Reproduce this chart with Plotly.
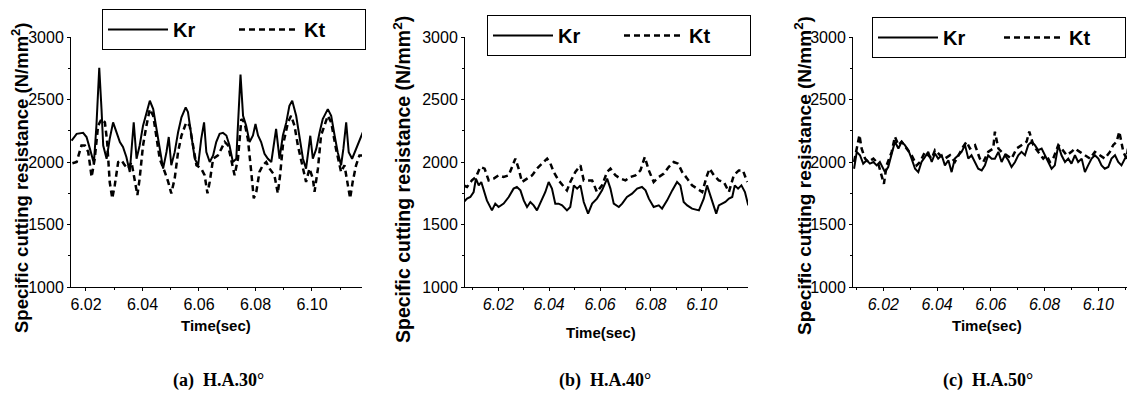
import plotly.graph_objects as go

# ---------------- data ----------------
# (a) H.A.30
t_a_kr = [6.0149, 6.0167, 6.0190, 6.0202, 6.0214, 6.0228, 6.0237, 6.0247, 6.0255, 6.0261,
          6.0273, 6.0284, 6.0296, 6.0308, 6.0320, 6.0331, 6.0343, 6.0355, 6.0369, 6.0379,
          6.0390, 6.0402, 6.0414, 6.0426, 6.0438, 6.0449, 6.0461, 6.0473, 6.0485, 6.0493,
          6.0502, 6.0514, 6.0526, 6.0538, 6.0553, 6.0561, 6.0573, 6.0585, 6.0597, 6.0608,
          6.0618, 6.0626, 6.0638, 6.0650, 6.0661, 6.0673, 6.0685, 6.0697, 6.0708, 6.0720,
          6.0732, 6.0738, 6.0747, 6.0756, 6.0767, 6.0779, 6.0791, 6.0800, 6.0809, 6.0820,
          6.0832, 6.0844, 6.0856, 6.0873, 6.0885, 6.0897, 6.0909, 6.0920, 6.0930, 6.0944,
          6.0956, 6.0968, 6.0979, 6.0994, 6.1003, 6.1015, 6.1027, 6.1038, 6.1056, 6.1068,
          6.1080, 6.1091, 6.1103, 6.1111, 6.1121, 6.1130, 6.1142, 6.1156, 6.1168, 6.1180]
kr_a = [2170, 2225, 2233, 2200, 2105, 1990, 2291, 2754, 2423, 2132,
        2026, 2185, 2317, 2238, 2160, 2120, 2040, 1920, 2317, 2026,
        2132, 2291, 2397, 2490, 2423, 2265, 2105, 1947, 2080, 2200,
        1974, 2079, 2238, 2357, 2437, 2400, 2212, 2026, 1974, 2185,
        2317, 2080, 2000, 2053, 2160, 2225, 2233, 2212, 2132, 2000,
        2026, 2344, 2700, 2370, 2291, 2160, 2212, 2304, 2212, 2160,
        2066, 2026, 2000, 2265, 2026, 2212, 2317, 2450, 2490, 2370,
        2185, 2026, 1947, 2210, 2026, 2105, 2238, 2344, 2423, 2370,
        2212, 2079, 1974, 2105, 2317, 2079, 2026, 2105, 2185, 2238]
t_a_kt = [6.0152, 6.0167, 6.0184, 6.0196, 6.0208, 6.0220, 6.0231, 6.0243, 6.0255, 6.0267,
          6.0275, 6.0284, 6.0293, 6.0302, 6.0314, 6.0326, 6.0337, 6.0349, 6.0361, 6.0373,
          6.0382, 6.0390, 6.0402, 6.0414, 6.0426, 6.0438, 6.0449, 6.0461, 6.0479, 6.0491,
          6.0502, 6.0514, 6.0526, 6.0538, 6.0555, 6.0567, 6.0579, 6.0591, 6.0608, 6.0620,
          6.0630, 6.0638, 6.0650, 6.0667, 6.0679, 6.0691, 6.0703, 6.0714, 6.0726, 6.0738,
          6.0750, 6.0761, 6.0773, 6.0785, 6.0794, 6.0803, 6.0814, 6.0826, 6.0838, 6.0850,
          6.0867, 6.0879, 6.0887, 6.0897, 6.0915, 6.0926, 6.0938, 6.0950, 6.0968, 6.0979,
          6.0991, 6.1003, 6.1009, 6.1021, 6.1032, 6.1044, 6.1056, 6.1068, 6.1085, 6.1103,
          6.1115, 6.1127, 6.1135, 6.1144, 6.1156, 6.1168, 6.1180]
kt_a = [1990, 2000, 2132, 2132, 2080, 1880, 2026, 2291, 2344, 2317,
        2160, 1840, 1709, 1815, 2000, 2013, 1974, 1947, 2000, 1841,
        1735, 1868, 2132, 2291, 2423, 2370, 2185, 2026, 1920, 1841,
        1749, 1868, 2080, 2212, 2317, 2291, 2132, 1974, 1947, 1894,
        1749, 1841, 2026, 2053, 2105, 2160, 2132, 2026, 1894, 2026,
        2344, 2317, 2185, 1920, 1709, 1762, 1920, 1974, 2000, 1947,
        1894, 1749, 1894, 2132, 2317, 2370, 2291, 2132, 1947, 1841,
        1947, 1868, 1762, 1947, 2212, 2291, 2370, 2317, 2105, 1920,
        1974, 1815, 1709, 1841, 1974, 2053, 2053]

# (b) H.A.40
t_b_kr = [6.0064, 6.0077, 6.0090, 6.0103, 6.0112, 6.0123, 6.0133, 6.0142, 6.0155, 6.0175,
          6.0188, 6.0201, 6.0221, 6.0241, 6.0260, 6.0273, 6.0287, 6.0300, 6.0313, 6.0326,
          6.0339, 6.0352, 6.0365, 6.0385, 6.0398, 6.0411, 6.0424, 6.0437, 6.0451, 6.0470,
          6.0483, 6.0497, 6.0510, 6.0523, 6.0536, 6.0553, 6.0569, 6.0588, 6.0608, 6.0628,
          6.0641, 6.0654, 6.0674, 6.0687, 6.0706, 6.0726, 6.0746, 6.0765, 6.0779, 6.0792,
          6.0811, 6.0831, 6.0844, 6.0864, 6.0884, 6.0903, 6.0916, 6.0929, 6.0943, 6.0962,
          6.0989, 6.1008, 6.1021, 6.1034, 6.1057, 6.1067, 6.1093, 6.1107, 6.1120, 6.1130,
          6.1143, 6.1156, 6.1170, 6.1183]
kr_b = [1680, 1707, 1720, 1760, 1867, 1813, 1840, 1787, 1693, 1613,
        1667, 1640, 1667, 1720, 1787, 1800, 1773, 1693, 1640, 1680,
        1653, 1613, 1667, 1760, 1840, 1787, 1667, 1667, 1653, 1613,
        1640, 1813, 1787, 1813, 1680, 1587, 1667, 1707, 1773, 1867,
        1787, 1667, 1640, 1667, 1720, 1747, 1787, 1800, 1773, 1707,
        1640, 1653, 1627, 1693, 1773, 1840, 1813, 1680, 1653, 1627,
        1613, 1707, 1813, 1733, 1587, 1653, 1680, 1707, 1720, 1813,
        1787, 1813, 1760, 1653]
t_b_kt = [6.0064, 6.0077, 6.0096, 6.0112, 6.0129, 6.0146, 6.0162, 6.0182, 6.0201, 6.0221,
          6.0241, 6.0256, 6.0267, 6.0280, 6.0293, 6.0313, 6.0333, 6.0352, 6.0372, 6.0392,
          6.0405, 6.0418, 6.0437, 6.0457, 6.0470, 6.0483, 6.0503, 6.0523, 6.0536, 6.0569,
          6.0588, 6.0608, 6.0628, 6.0641, 6.0661, 6.0680, 6.0700, 6.0720, 6.0739, 6.0759,
          6.0776, 6.0792, 6.0811, 6.0831, 6.0851, 6.0870, 6.0890, 6.0907, 6.0923, 6.0943,
          6.0962, 6.0982, 6.1002, 6.1021, 6.1031, 6.1048, 6.1067, 6.1087, 6.1107, 6.1126,
          6.1146, 6.1162, 6.1179]
kt_b = [1813, 1800, 1853, 1880, 1960, 1947, 1853, 1867, 1893, 1880,
        1893, 1973, 2027, 1947, 1840, 1867, 1893, 1947, 1987, 2027,
        1987, 1920, 1853, 1800, 1773, 1840, 1920, 1973, 1853, 1853,
        1760, 1813, 1920, 1947, 1893, 1867, 1853, 1880, 1893, 1933,
        2040, 1933, 1840, 1880, 1907, 1960, 2000, 1987, 1920, 1867,
        1813, 1787, 1760, 1893, 1947, 1893, 1853, 1840, 1760, 1893,
        1933, 1933, 1840]

# (c) H.A.50
t_c_kr = [6.0091, 6.0101, 6.0113, 6.0125, 6.0138, 6.0150, 6.0163, 6.0175, 6.0187, 6.0206,
          6.0218, 6.0231, 6.0243, 6.0256, 6.0268, 6.0280, 6.0293, 6.0305, 6.0318, 6.0330,
          6.0342, 6.0355, 6.0367, 6.0380, 6.0392, 6.0404, 6.0417, 6.0429, 6.0442, 6.0454,
          6.0466, 6.0479, 6.0491, 6.0504, 6.0516, 6.0528, 6.0541, 6.0553, 6.0566, 6.0578,
          6.0590, 6.0603, 6.0615, 6.0628, 6.0640, 6.0652, 6.0665, 6.0677, 6.0690, 6.0702,
          6.0714, 6.0727, 6.0739, 6.0752, 6.0764, 6.0776, 6.0789, 6.0801, 6.0814, 6.0826,
          6.0838, 6.0851, 6.0863, 6.0876, 6.0888, 6.0900, 6.0913, 6.0925, 6.0938, 6.0950,
          6.0962, 6.0975, 6.0987, 6.1000, 6.1012, 6.1024, 6.1037, 6.1049, 6.1062, 6.1074,
          6.1086, 6.1099, 6.1111, 6.1124, 6.1132]
kr_c = [1946, 2081, 2054, 1987, 2014, 1987, 2000, 1973, 2000, 1919,
        1960, 2054, 2162, 2108, 2162, 2135, 2095, 2027, 1946, 1919,
        2000, 2041, 2081, 2000, 2068, 2027, 2054, 1973, 2014, 1919,
        2027, 2054, 2081, 2135, 2027, 2054, 2000, 1946, 1933, 1973,
        2054, 2027, 2027, 2081, 2000, 2054, 2014, 1960, 2000, 2054,
        2081, 2054, 2135, 2162, 2135, 2095, 2108, 2054, 2000, 1946,
        1973, 2135, 2054, 2000, 2027, 1987, 2054, 2000, 2027, 1919,
        1973, 2027, 2054, 2027, 1973, 1946, 1960, 2027, 2054, 2000,
        1973, 2027, 2054, 1973, 2054]
t_c_kt = [6.0091, 6.0101, 6.0111, 6.0119, 6.0132, 6.0144, 6.0163, 6.0181, 6.0194, 6.0202,
          6.0212, 6.0231, 6.0243, 6.0256, 6.0268, 6.0287, 6.0305, 6.0324, 6.0336, 6.0355,
          6.0367, 6.0380, 6.0392, 6.0411, 6.0429, 6.0448, 6.0466, 6.0485, 6.0497, 6.0510,
          6.0522, 6.0541, 6.0559, 6.0572, 6.0590, 6.0609, 6.0615, 6.0628, 6.0640, 6.0659,
          6.0677, 6.0696, 6.0714, 6.0733, 6.0743, 6.0758, 6.0776, 6.0795, 6.0807, 6.0820,
          6.0832, 6.0851, 6.0863, 6.0882, 6.0900, 6.0913, 6.0931, 6.0950, 6.0969, 6.0987,
          6.1006, 6.1024, 6.1043, 6.1055, 6.1068, 6.1078, 6.1093, 6.1105, 6.1117, 6.1132]
kt_c = [2000, 2108, 2216, 2108, 2027, 2000, 2027, 1987, 1892, 1825,
        1973, 2081, 2203, 2135, 2162, 2108, 2054, 1973, 2000, 2081,
        2054, 2027, 2095, 2054, 2027, 2054, 2000, 2081, 2122, 2162,
        2108, 2135, 2027, 2000, 2081, 2108, 2243, 2108, 2081, 2054,
        2027, 2108, 2135, 2162, 2243, 2135, 2081, 2027, 2054, 2000,
        2027, 2135, 2108, 2054, 2081, 2108, 2081, 2054, 2027, 2081,
        2054, 2027, 2081, 2135, 2162, 2243, 2081, 2027, 2216, 2189]

x_ticks = [6.02, 6.04, 6.06, 6.08, 6.10]
x_ticklabels = ["6.02", "6.04", "6.06", "6.08", "6.10"]
y_ticks = [1000, 1500, 2000, 2500, 3000]
y_ticklabels = ["1000", "1500", "2000", "2500", "3000"]
captions = ["(a)\u00a0 H.A.30°", "(b)\u00a0 H.A.40°", "(c)\u00a0 H.A.50°"]
y_title = "Specific cutting resistance (N/mm<sup>2</sup>)"
x_title = "Time(sec)"

# ---------------- figure ----------------
# The page body has an 8px default margin, so the figure is placed at (8, 8).
OFF = 8
W, H = 1135 - OFF, 398 - OFF
def px(x):
    return (x - OFF) / W
def py(y):
    return (H - (y - OFF)) / H

panels = [
    dict(t_kr=t_a_kr, kr=kr_a, t_kt=t_a_kt, kt=kt_a, xdom=(71, 362), xr=(6.0147, 6.1177),
         italic=False, leg=(102, 9), ew=56, ytx=20, yty=178, yts=18.5,
         xtx=216, xty=325, cap=218),
    dict(t_kr=t_b_kr, kr=kr_b, t_kt=t_b_kt, kt=kt_b, xdom=(465, 748), xr=(6.0069, 6.1182),
         italic=True, leg=(487, 15), ew=56, ytx=402, yty=180, yts=19.5,
         xtx=601, xty=332, cap=605),
    dict(t_kr=t_c_kr, kr=kr_c, t_kt=t_c_kt, kt=kt_c, xdom=(853, 1133), xr=(6.0087, 6.1129),
         italic=True, leg=(872, 17), ew=51, ytx=803, yty=176, yts=19,
         xtx=987, xty=325, cap=988),
]

fig = go.Figure()
SANS = "Liberation Sans, Arial, sans-serif"
NARROW = "Liberation Sans Narrow, Arial Narrow, Liberation Sans, Arial, sans-serif"
annotations = []
layout_axes = {}
for i, p in enumerate(panels):
    n = "" if i == 0 else str(i + 1)
    xa, ya = "x" + n, "y" + n
    legname = "legend" + n
    fig.add_trace(go.Scatter(x=p["t_kr"], y=p["kr"], mode="lines", name="Kr",
                             line=dict(color="black", width=2), xaxis=xa, yaxis=ya,
                             legend=legname))
    fig.add_trace(go.Scatter(x=p["t_kt"], y=p["kt"], mode="lines", name="Kt",
                             line=dict(color="black", width=2.5, dash="6px,4px"),
                             xaxis=xa, yaxis=ya, legend=legname))
    layout_axes["xaxis" + n] = dict(
        domain=[px(p["xdom"][0]), px(p["xdom"][1])], range=list(p["xr"]), anchor=ya,
        showline=True, linecolor="black", linewidth=1, showgrid=False, zeroline=False,
        tickmode="array", tickvals=x_ticks, ticktext=x_ticklabels,
        ticks="outside", ticklen=3, tickcolor="black",
        tickfont=dict(family=NARROW, size=16, color="black",
                      style="italic" if p["italic"] else "normal"),
        minor=dict(ticks="outside", ticklen=2, dtick=0.01, tickcolor="black"),
    )
    layout_axes["yaxis" + n] = dict(
        domain=[py(287), py(37)], range=[1000, 3000], anchor=xa,
        showline=True, linecolor="black", linewidth=1, showgrid=False, zeroline=False,
        tickmode="array", tickvals=y_ticks, ticktext=y_ticklabels,
        ticks="outside", ticklen=3, tickcolor="black",
        tickfont=dict(family=NARROW, size=16, color="black"),
        minor=dict(ticks="outside", ticklen=2, dtick=250, tickcolor="black"),
    )
    layout_axes[legname] = dict(
        x=px(p["leg"][0]), y=py(p["leg"][1]), xanchor="left", yanchor="top",
        orientation="h", bordercolor="black", borderwidth=1, bgcolor="white",
        font=dict(family=SANS, size=20, color="black", weight="bold"),
        entrywidth=p["ew"], entrywidthmode="pixels", itemwidth=60,
    )
    annotations.append(dict(text="<b>" + y_title + "</b>", textangle=-90,
                            x=px(p["ytx"]), y=py(p["yty"]), xref="paper", yref="paper",
                            showarrow=False, xanchor="center", yanchor="middle",
                            font=dict(family=SANS, size=p["yts"], color="black")))
    annotations.append(dict(text="<b>" + x_title + "</b>",
                            x=px(p["xtx"]), y=py(p["xty"]), xref="paper", yref="paper",
                            showarrow=False, xanchor="center", yanchor="middle",
                            font=dict(family=SANS, size=15, color="black")))
    annotations.append(dict(text="<b>" + captions[i] + "</b>",
                            x=px(p["cap"]), y=py(380), xref="paper", yref="paper",
                            showarrow=False, xanchor="center", yanchor="middle",
                            font=dict(family="Liberation Serif, Times New Roman, serif",
                                      size=18, color="black")))

fig.update_layout(
    width=W, height=H, autosize=False,
    margin=dict(l=0, r=0, t=0, b=0, autoexpand=False),
    paper_bgcolor="white", plot_bgcolor="white",
    showlegend=True, annotations=annotations, **layout_axes,
)

fig.write_html("out.html")
